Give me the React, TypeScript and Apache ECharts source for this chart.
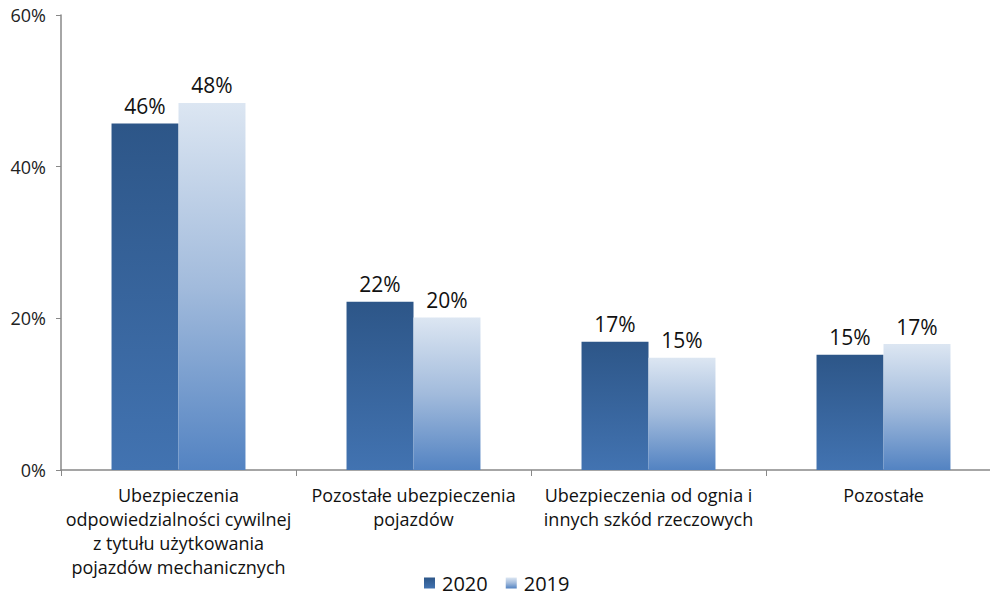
import React, { useEffect, useRef } from "react";
import * as echarts from "echarts";

const categories = [
  "Ubezpieczenia\nodpowiedzialności cywilnej\nz tytułu użytkowania\npojazdów mechanicznych",
  "Pozostałe ubezpieczenia\npojazdów",
  "Ubezpieczenia od ognia i\ninnych szkód rzeczowych",
  "Pozostałe",
];
const values2020 = [45.7, 22.2, 16.9, 15.2];
const values2019 = [48.4, 20.1, 14.8, 16.6];
const yTicks = { min: 0, max: 60, interval: 20 };

const FONT = "'Open Sans', 'Noto Sans', sans-serif";

export default function App() {
  const ref = useRef<HTMLDivElement>(null);
  useEffect(() => {
    if (!ref.current) return;
    const chart = echarts.init(ref.current, null, { renderer: "svg" });
    const grad2020 = new echarts.graphic.LinearGradient(0, 0, 0, 1, [
      { offset: 0, color: "#2d5688" },
      { offset: 1, color: "#4273b1" },
    ]);
    const grad2019 = new echarts.graphic.LinearGradient(0, 0, 0, 1, [
      { offset: 0, color: "#dce6f2" },
      { offset: 0.5, color: "#a2bbdc" },
      { offset: 1, color: "#5383c2" },
    ]);
    const label = {
      show: true,
      position: "top",
      distance: 7,
      fontSize: 21,
      color: "#111",
      fontFamily: FONT,
      formatter: (p: any) => Math.round(p.value) + "%",
    };
    chart.setOption({
      animation: false,
      textStyle: { fontFamily: FONT },
      grid: { left: 61, right: 0, top: 15, bottom: 130, containLabel: false },
      legend: {
        bottom: 2,
        left: 419,
        itemWidth: 11,
        itemHeight: 11,
        itemGap: 18,
        textStyle: { fontSize: 20, color: "#111", fontFamily: FONT, padding: [0, 0, 0, 2] },
        data: [
          { name: "2020", icon: "rect" },
          { name: "2019", icon: "rect" },
        ],
      },
      xAxis: {
        type: "category",
        data: categories,
        axisLine: { lineStyle: { color: "#888", width: 1.5 } },
        axisTick: { show: true, length: 6, lineStyle: { color: "#888" } },
        axisLabel: {
          fontSize: 18,
          lineHeight: 24,
          color: "#111",
          margin: 13,
          interval: 0,
          fontFamily: FONT,
        },
      },
      yAxis: {
        type: "value",
        min: yTicks.min,
        max: yTicks.max,
        interval: yTicks.interval,
        splitLine: { show: false },
        axisLine: { show: true, lineStyle: { color: "#888", width: 1.5 } },
        axisTick: { show: true, length: 5, lineStyle: { color: "#888" } },
        axisLabel: {
          fontSize: 18,
          color: "#222",
          margin: 15,
          formatter: "{value}%",
          fontFamily: FONT,
        },
      },
      series: [
        {
          name: "2020",
          type: "bar",
          data: values2020,
          barGap: "0%",
          barCategoryGap: "43%",
          itemStyle: { color: grad2020 },
          label,
        },
        {
          name: "2019",
          type: "bar",
          data: values2019,
          itemStyle: { color: grad2019 },
          label,
        },
      ],
    });
    return () => chart.dispose();
  }, []);
  return (
    <div
      style={{ position: "absolute", left: 0, top: 0, width: 990, height: 600, overflow: "hidden", background: "#fff" }}
    >
      <div ref={ref} style={{ width: 1001, height: 600 }} />
    </div>
  );
}
